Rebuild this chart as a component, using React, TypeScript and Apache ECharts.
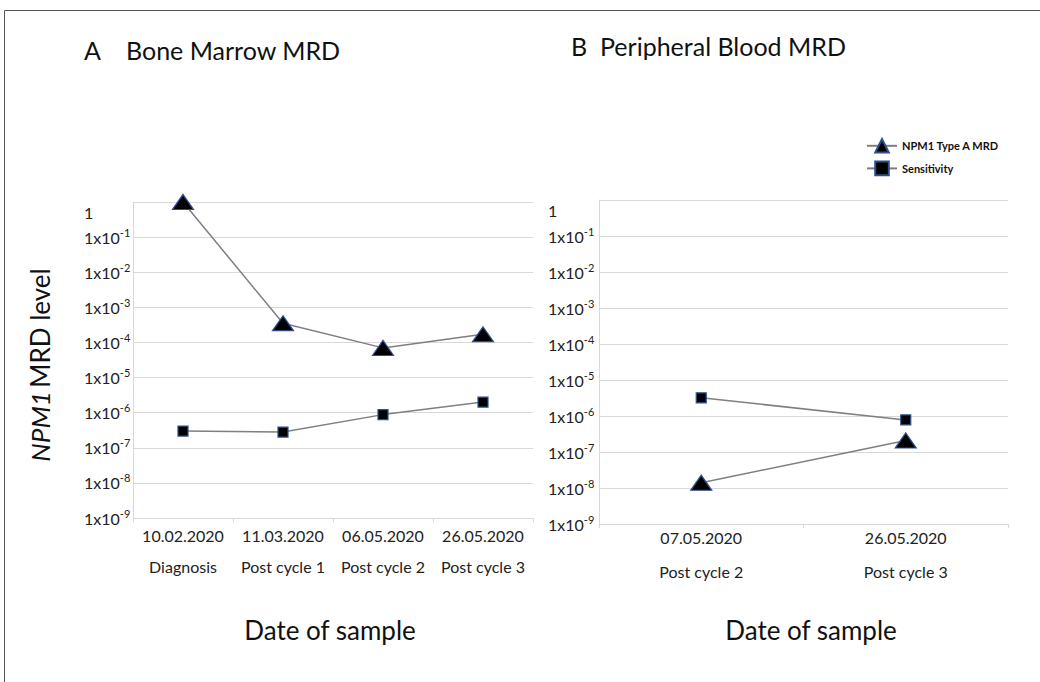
import React, { useEffect, useRef } from "react";
import * as echarts from "echarts";

// ---- Data ----
const datesBM = ["10.02.2020", "11.03.2020", "06.05.2020", "26.05.2020"];
const stagesBM = ["Diagnosis", "Post cycle 1", "Post cycle 2", "Post cycle 3"];
const npm1BM = [1, 3.5e-4, 7e-5, 1.7e-4];
const sensBM = [3.0e-7, 2.8e-7, 8.8e-7, 2.0e-6];

const datesPB = ["07.05.2020", "26.05.2020"];
const stagesPB = ["Post cycle 2", "Post cycle 3"];
const npm1PB = [1.4e-8, 2.1e-7];
const sensPB = [3.2e-6, 7.8e-7];

const yMin = 1e-9;
const yMax = 1;

const FONT = "Lato";
const NPM1_NAME = "NPM1 Type A MRD";
const SENS_NAME = "Sensitivity";

export default function App() {
  const ref = useRef<HTMLDivElement>(null);

  useEffect(() => {
    if (!ref.current) return;
    const chart = echarts.init(ref.current, undefined, { renderer: "svg" });

    const catsBM = datesBM.map((d, i) => d + "\n" + stagesBM[i]);
    const catsPB = datesPB.map((d, i) => d + "\n" + stagesPB[i]);

    const yLabel = {
      color: "#222",
      fontFamily: FONT,
      align: "left" as const,
      formatter: (v: number) => {
        const e = Math.round(Math.log10(v));
        if (e === 0) return "{one|1}";
        return "{b|1x10}{s|" + e + "}";
      },
      rich: {
        b: { fontSize: 16, fontFamily: FONT, color: "#222" },
        s: { fontSize: 11, fontFamily: FONT, color: "#222", padding: [0, 0, 10, 0] },
        one: { fontSize: 16, fontFamily: FONT, color: "#222", padding: [20, 0, 0, 0] },
      },
    };

    const yAxisBase = {
      type: "log" as const,
      logBase: 10,
      min: yMin,
      max: yMax,
      splitNumber: 9,
      axisLine: { show: true, lineStyle: { color: "#d9d9d9", width: 1 } },
      axisTick: { show: false },
      splitLine: { show: true, lineStyle: { color: "#d9d9d9", width: 1 } },
    };

    const xAxisBase = {
      type: "category" as const,
      boundaryGap: true,
      axisLine: { show: true, lineStyle: { color: "#d9d9d9", width: 1 } },
      axisTick: { show: true, length: 4, lineStyle: { color: "#d9d9d9" } },
      axisLabel: {
        color: "#222",
        fontFamily: FONT,
        fontSize: 16,
        lineHeight: 31,
        interval: 0,
      },
    };

    const lineStyle = { color: "#7f7f7f", width: 1.5 };
    const triStyle = { color: "#000", borderColor: "#2f4f8f", borderWidth: 1.2 };
    const sqStyle = { color: "#000", borderColor: "#2f4f8f", borderWidth: 1.2 };

    const option = {
      animation: false,
      backgroundColor: "#fff",
      textStyle: { fontFamily: FONT },
      legend: {
        orient: "vertical",
        left: 861,
        top: 133,
        itemWidth: 30,
        itemHeight: 17,
        itemGap: 7,
        textStyle: { fontSize: 11, fontWeight: "bold", color: "#111", fontFamily: FONT },
        data: [NPM1_NAME, SENS_NAME],
      },
      grid: [
        { left: 133, top: 202, width: 400, height: 316 },
        { left: 599, top: 200, width: 409, height: 324 },
      ],
      xAxis: [
        { ...xAxisBase, gridIndex: 0, data: catsBM, axisLabel: { ...xAxisBase.axisLabel, margin: 2 } },
        { ...xAxisBase, gridIndex: 1, data: catsPB, axisLabel: { ...xAxisBase.axisLabel, margin: -4, lineHeight: 34 } },
      ],
      yAxis: [
        { ...yAxisBase, gridIndex: 0, axisLabel: { ...yLabel, margin: 49 } },
        { ...yAxisBase, gridIndex: 1, axisLabel: { ...yLabel, margin: 51 } },
      ],
      series: [
        {
          name: NPM1_NAME, type: "line", xAxisIndex: 0, yAxisIndex: 0, data: npm1BM,
          symbol: "triangle", symbolSize: [21, 15], lineStyle, itemStyle: triStyle,
        },
        {
          name: SENS_NAME, type: "line", xAxisIndex: 0, yAxisIndex: 0, data: sensBM,
          symbol: "rect", symbolSize: 10, lineStyle, itemStyle: sqStyle,
        },
        {
          name: NPM1_NAME, type: "line", xAxisIndex: 1, yAxisIndex: 1, data: npm1PB,
          symbol: "triangle", symbolSize: [21, 15], lineStyle, itemStyle: triStyle,
        },
        {
          name: SENS_NAME, type: "line", xAxisIndex: 1, yAxisIndex: 1, data: sensPB,
          symbol: "rect", symbolSize: 10, lineStyle, itemStyle: sqStyle,
        },
      ],
      graphic: [
        {
          type: "rect", z: -1, silent: true,
          shape: { x: 4.5, y: 10.5, width: 1100, height: 800 },
          style: { fill: "none", stroke: "#555", lineWidth: 1 },
        },
        { type: "text", x: 84, y: 50, style: { text: "A", font: `25px ${FONT}`, fill: "#111", textVerticalAlign: "middle" } },
        { type: "text", x: 126, y: 50, style: { text: "Bone Marrow MRD", font: `25px ${FONT}`, fill: "#111", textVerticalAlign: "middle" } },
        { type: "text", x: 571, y: 46, style: { text: "B", font: `25px ${FONT}`, fill: "#111", textVerticalAlign: "middle" } },
        { type: "text", x: 600, y: 46, style: { text: "Peripheral Blood MRD", font: `25px ${FONT}`, fill: "#111", textVerticalAlign: "middle" } },
        { type: "text", x: 330, y: 630, style: { text: "Date of sample", font: `26px ${FONT}`, fill: "#111", textAlign: "center", textVerticalAlign: "middle" } },
        { type: "text", x: 811, y: 630, style: { text: "Date of sample", font: `26px ${FONT}`, fill: "#111", textAlign: "center", textVerticalAlign: "middle" } },
        {
          type: "text", x: 40, y: 365, rotation: Math.PI / 2,
          style: {
            text: "{i|NPM1} {n|MRD level}",
            textAlign: "center", textVerticalAlign: "middle",
            rich: {
              i: { fontSize: 26, fontStyle: "italic", fontFamily: FONT, fill: "#111" },
              n: { fontSize: 26, fontFamily: FONT, fill: "#111" },
            },
          },
        },
      ],
    };

    chart.setOption(option as any);
    return () => chart.dispose();
  }, []);

  return (
    <div
      ref={ref}
      style={{ position: "fixed", left: 0, top: 0, width: 1040, height: 682, background: "#fff" }}
    />
  );
}
